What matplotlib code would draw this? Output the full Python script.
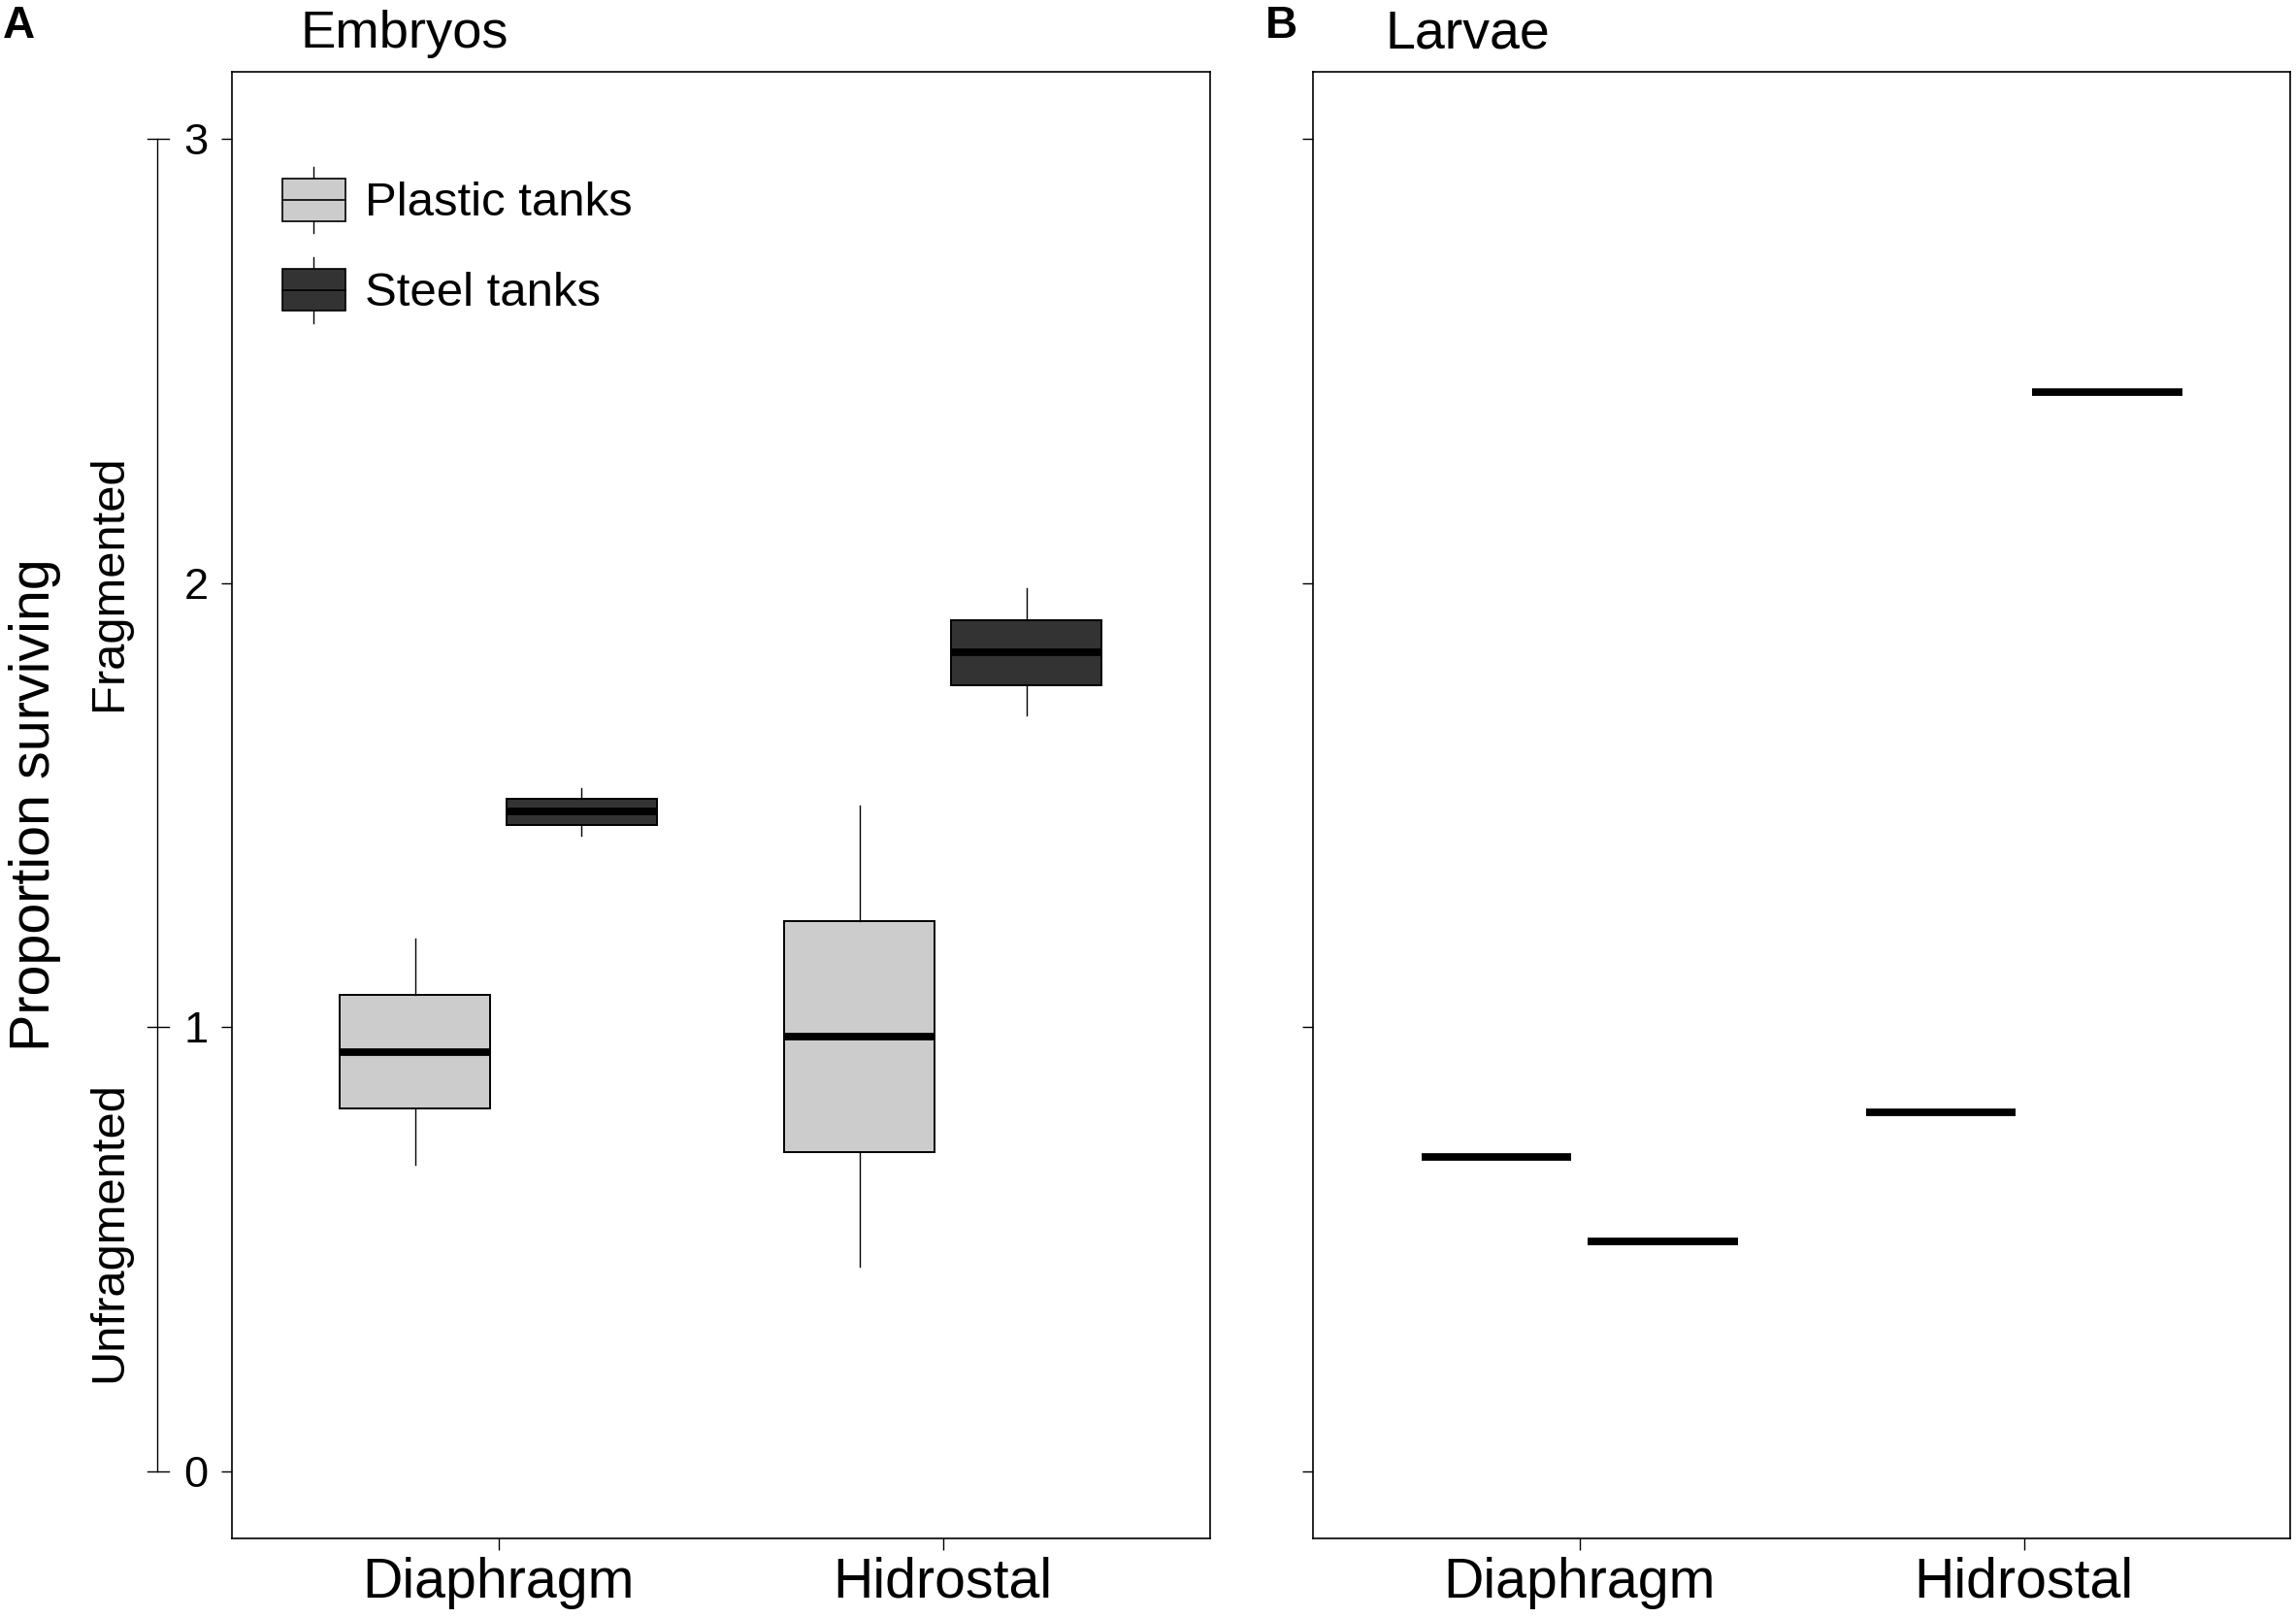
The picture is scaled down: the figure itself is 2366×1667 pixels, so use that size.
import matplotlib
matplotlib.use('Agg')
import matplotlib.pyplot as plt
from matplotlib.patches import Patch, Rectangle
from matplotlib.lines import Line2D
from matplotlib.legend_handler import HandlerBase
from matplotlib.transforms import blended_transform_factory

plt.rcParams['font.family'] = ['Liberation Sans', 'DejaVu Sans']

methods = ['Diaphragm', 'Hidrostal']
series = ['Plastic tanks', 'Steel tanks']
colors = ['#cccccc', '#333333']

# embryos: whislo, q1, median, q3, whishi for each method
emb_plastic = [[0.690, 0.817, 0.945, 1.072, 1.200],
               [0.461, 0.720, 0.980, 1.240, 1.499]]
emb_steel = [[1.431, 1.456, 1.485, 1.514, 1.538],
             [1.701, 1.770, 1.844, 1.916, 1.989]]

# larvae: only the medians are drawn
lar_plastic = [0.708, 0.809]
lar_steel = [0.519, 2.430]

yticks = [0, 1, 2, 3]
bracket_ticks = [0, 1, 3]

offset = 0.1875
width = 0.3375


class BoxHandler(HandlerBase):
    # small boxplot glyph for the legend
    def create_artists(self, legend, orig_handle, xdescent, ydescent,
                       width, height, fontsize, trans):
        x0, y0 = -xdescent, -ydescent
        xc = x0 + width / 2
        wh = Line2D([xc, xc], [y0, y0 + height], lw=0.5, color='k', transform=trans)
        box = Rectangle((x0, y0 + 0.18 * height), width, 0.64 * height,
                        facecolor=orig_handle.get_facecolor(), edgecolor='k',
                        lw=0.6, transform=trans)
        med = Line2D([x0, x0 + width], [y0 + height / 2] * 2, lw=0.6, color='k',
                     transform=trans)
        return [wh, box, med]


def to_stats(rows):
    return [dict(whislo=r[0], q1=r[1], med=r[2], q3=r[3], whishi=r[4]) for r in rows]


fig = plt.figure(figsize=(11.83, 8.335), dpi=200)
axA = fig.add_axes([0.10089, 0.04919, 0.42595, 0.90642])
axB = fig.add_axes([0.57197, 0.04919, 0.42561, 0.90642])

pos = [1, 2]

for rows, col, sign in [(emb_plastic, colors[0], -1), (emb_steel, colors[1], 1)]:
    axA.bxp(to_stats(rows), positions=[p + sign * offset for p in pos], widths=width,
            patch_artist=True, showcaps=False, showfliers=False, manage_ticks=False,
            boxprops=dict(facecolor=col, edgecolor='k', linewidth=0.7),
            medianprops=dict(color='k', linewidth=2.8, solid_capstyle='butt'),
            whiskerprops=dict(color='k', linewidth=0.5))

for vals, sign in [(lar_plastic, -1), (lar_steel, 1)]:
    xs = [p + sign * offset for p in pos]
    axB.hlines(vals, [x - width / 2 for x in xs], [x + width / 2 for x in xs],
               color='k', linewidth=2.8)

for ax in (axA, axB):
    ax.set_xlim(0.4, 2.6)
    ax.set_ylim(-0.15, 3.15)
    ax.set_xticks(pos)
    ax.set_xticklabels(methods)
    ax.set_yticks(yticks)
    ax.tick_params(axis='x', direction='out', length=4.3, width=0.5, pad=2.5, labelsize=20.6)
    ax.tick_params(axis='y', direction='out', length=4.0, width=0.5, pad=4.7, labelsize=16.3)
    for s in ax.spines.values():
        s.set_linewidth(0.6)
axB.set_yticklabels([])

# outer bracket separating unfragmented / fragmented
tr = blended_transform_factory(axA.transAxes, axA.transData)
axA.plot([-0.0758, -0.0758], [yticks[0], yticks[-1]], color='k', lw=0.5,
         transform=tr, clip_on=False)
for t in bracket_ticks:
    axA.plot([-0.0857, -0.0645], [t, t], color='k', lw=0.5, transform=tr, clip_on=False)

axA.text(-0.1029, 2.0, 'Fragmented', rotation=90, ha='right', va='center',
         fontsize=17.6, transform=tr)
axA.text(-0.1029, 0.54, 'Unfragmented', rotation=90, ha='right', va='center',
         fontsize=17.6, transform=tr)
axA.text(-0.1744, 1.5, 'Proportion surviving', rotation=90, ha='right', va='center',
         fontsize=20.7, transform=tr)

handles = [Patch(facecolor=c) for c in colors]
axA.legend(handles, series, handler_map={Patch: BoxHandler()},
           loc='upper left', bbox_to_anchor=(0.0519, 0.9351), frameon=False,
           fontsize=17.7, handlelength=1.32, handleheight=1.75, handletextpad=0.41,
           labelspacing=0.5, borderpad=0, borderaxespad=0)

fig.text(310 / 2366, 1 - 49.3 / 1667, 'Embryos', fontsize=19.6, va='baseline')
fig.text(1428 / 2366, 1 - 50 / 1667, 'Larvae', fontsize=20.0, va='baseline')
fig.text(3 / 2366, 1 - 39.3 / 1667, 'A', fontsize=16.5, fontweight='bold', va='baseline')
fig.text(1304 / 2366, 1 - 39.3 / 1667, 'B', fontsize=16.5, fontweight='bold', va='baseline')

fig.savefig('out.png', dpi=200)
